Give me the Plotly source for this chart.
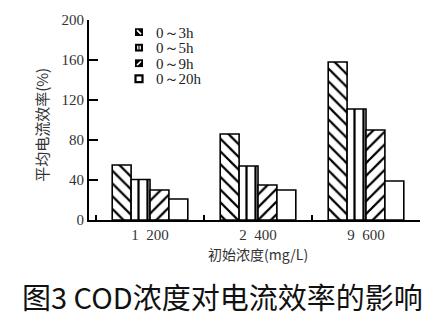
import plotly.graph_objects as go

categories = ["1 200", "2 400", "9 600"]
series_names = ["0～3h", "0～5h", "0～9h", "0～20h"]
v_3h = [55, 86, 158]
v_5h = [40.5, 54, 111]
v_9h = [30, 35, 90]
v_20h = [21, 30, 39]
y_ticks = [0, 40, 80, 120, 160, 200]

patterns = ["\\", "|", "/", ""]
values = [v_3h, v_5h, v_9h, v_20h]

serif = "'Liberation Serif', 'Times New Roman', serif"
cjk = "'Noto Sans CJK SC', sans-serif"

W, H = 444, 331
ML, MR, MT, MB = 89, 24, 14, 111
PW, PH = W - ML - MR, H - MT - MB


def px(x):
    return (x - ML) / PW


def py(y):
    return (H - MB - y) / PH


fig = go.Figure()
for name, vals, pat in zip(series_names, values, patterns):
    fig.add_trace(go.Bar(
        x=categories, y=vals, name=name, showlegend=False,
        marker=dict(color="white",
                    line=dict(color="black", width=1.6),
                    pattern=dict(shape=pat, fgcolor="black", bgcolor="white",
                                 size=9, solidity=0.25, fillmode="replace")),
    ))

# hand-drawn legend (compact, like the scanned figure)
leg_x0, leg_y0, leg_dy, sw = 135, 26.5, 16, 8
for i, (name, pat) in enumerate(zip(series_names, patterns)):
    cy = leg_y0 + i * leg_dy
    x0, x1 = leg_x0, leg_x0 + sw
    y0, y1 = cy - sw / 2, cy + sw / 2
    if pat == "":
        fig.add_shape(type="rect", xref="paper", yref="paper",
                      x0=px(x0 + 0.5), x1=px(x1 - 0.5), y0=py(y1 - 0.5), y1=py(y0 + 0.5),
                      line=dict(color="black", width=2.2), fillcolor="white")
    else:
        fig.add_shape(type="rect", xref="paper", yref="paper",
                      x0=px(x0), x1=px(x1), y0=py(y1), y1=py(y0),
                      line=dict(width=0), fillcolor="black")
        if pat == "\\":
            fig.add_shape(type="line", xref="paper", yref="paper",
                          x0=px(x0 + 2), y0=py(y0 + 2), x1=px(x1 - 2), y1=py(y1 - 2),
                          line=dict(color="white", width=1.6))
        elif pat == "/":
            fig.add_shape(type="line", xref="paper", yref="paper",
                          x0=px(x0 + 2), y0=py(y1 - 2), x1=px(x1 - 2), y1=py(y0 + 2),
                          line=dict(color="white", width=1.6))
        else:
            for xx in (x0 + 2.8, x0 + 5.2):
                fig.add_shape(type="line", xref="paper", yref="paper",
                              x0=px(xx), y0=py(y0 + 2), x1=px(xx), y1=py(y1 - 2),
                              line=dict(color="white", width=1.3))
    fig.add_annotation(text=name, xref="paper", yref="paper",
                       x=px(154), y=py(cy + 0.5), xanchor="left", yanchor="middle",
                       showarrow=False, font=dict(family=serif, size=15, color="#222"))

fig.update_layout(
    width=W, height=H,
    margin=dict(l=ML, r=MR, t=MT, b=MB),
    paper_bgcolor="white", plot_bgcolor="white",
    barmode="group", bargap=0.3, bargroupgap=0,
    showlegend=False,
    font=dict(family=serif, color="#222"),
)
fig.update_xaxes(
    type="category", range=[-0.565, 2.5],
    tickvals=categories, ticktext=[c.replace(" ", "\u2002") for c in categories],
    showline=True, linecolor="black", linewidth=2,
    ticks="inside", tickson="boundaries", ticklen=5, tickwidth=1.5, tickcolor="black",
    tickfont=dict(family=serif, size=15, color="#333"),
    showgrid=False, zeroline=False,
)
fig.update_yaxes(
    range=[0, 200], tickvals=y_ticks,
    showline=True, linecolor="black", linewidth=2,
    ticks="inside", ticklen=9, tickwidth=2, tickcolor="black",
    tickfont=dict(family=serif, size=15, color="#333"),
    showgrid=False, zeroline=False,
)
fig.add_annotation(text="平均电流效率(%)", xref="paper", yref="paper",
                   x=px(42), y=py(122), xanchor="center", yanchor="middle",
                   textangle=-90, showarrow=False,
                   font=dict(family=cjk, size=15, color="#333"))
fig.add_annotation(text="初始浓度(mg/L)", xref="paper", yref="paper",
                   x=px(258), y=py(255), xanchor="center", yanchor="middle",
                   showarrow=False,
                   font=dict(family=cjk, size=14, color="#333"))
fig.add_annotation(text="图3 COD浓度对电流效率的影响", xref="paper", yref="paper",
                   x=px(222), y=py(298), xanchor="center", yanchor="middle",
                   showarrow=False,
                   font=dict(family=cjk, size=29, color="#111"))

fig.write_html("out.html")
